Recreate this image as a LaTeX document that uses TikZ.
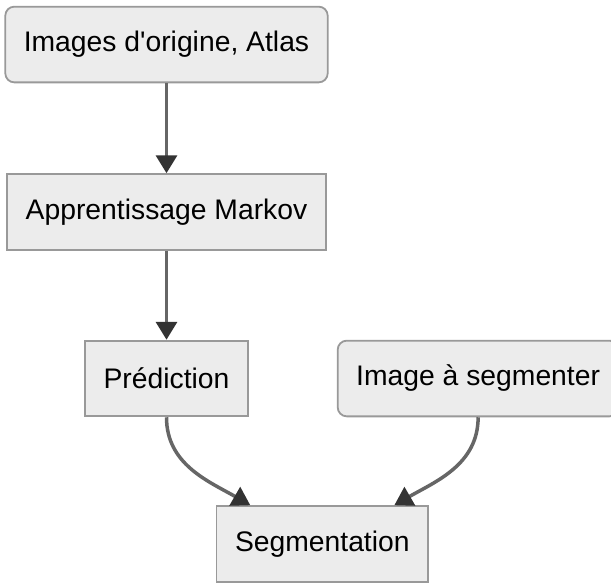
\documentclass[tikz,border=0pt]{standalone}
\usepackage{fontspec}
\setmainfont{Liberation Sans}[Ligatures=TeXOff]
\usepackage{tikz}
\usetikzlibrary{positioning}
\usetikzlibrary{calc}
\usetikzlibrary{arrows.meta}

\definecolor{boxfill}{HTML}{ECECEC}
\definecolor{boxgray}{HTML}{999999}
\definecolor{linegray}{HTML}{666666}
\definecolor{tipdark}{HTML}{333333}

\begin{document}
\begin{tikzpicture}[
                          x=1pt, y=1pt,
                          squarednode/.style={rectangle, draw=boxgray, fill=boxfill, line width=1.8pt, minimum height=75.7pt, inner xsep=18.5pt, font=\fontsize{28.3}{34}\selectfont},
                          roundednode/.style={squarednode, rounded corners=9pt},
                          link/.style={draw=linegray, line width=3.5pt, -{Triangle[length=18pt, width=21pt, color=tipdark]}},
                      ]
                      \useasboundingbox (0,0) rectangle (611,-582);
                      \clip (0,0) rectangle (611,-582);

                      % Nodes
                      \node[roundednode]       (images_origine)                                   at (166.5,-44.5) {Images d'origine, Atlas};
                      \node[squarednode]       (apprentissage)  [below=90pt of images_origine]    {Apprentissage Markov};
                      \node[squarednode]       (prediction)     [below=89pt of apprentissage]     {Prédiction};
                      \node[roundednode]       (image_seg)      [right=88pt of prediction]        {Image à segmenter};
                      \coordinate              (mid_seg)        at ($(prediction.south)!0.5!(image_seg.south)$);
                      \node[squarednode]       (segmentation)   [below=88pt of mid_seg]           {Segmentation};

                      %Lines
                      \draw[link] (images_origine.south) -- (apprentissage.north);
                      \draw[link] (apprentissage.south) -- (prediction.north);
                      \draw[link] (prediction.south) to[out=-90, in=150] ([xshift=-72pt]segmentation.north);
                      \draw[link] (image_seg.south) to[out=-90, in=30] ([xshift=72pt]segmentation.north);
                  \end{tikzpicture}
\end{document}
